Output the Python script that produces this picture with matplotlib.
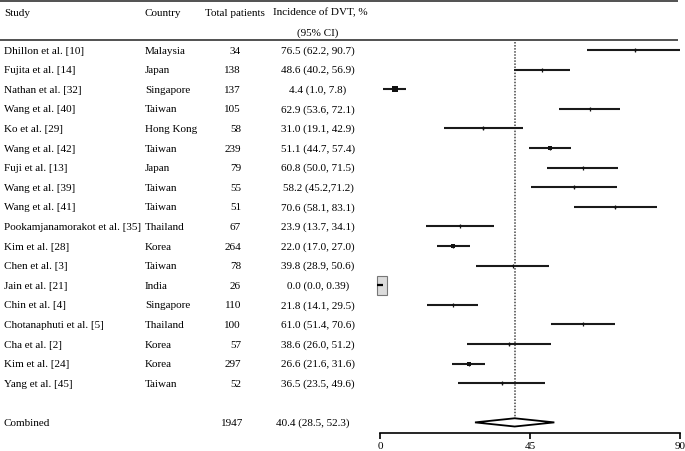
import matplotlib
matplotlib.use("Agg")
import matplotlib.pyplot as plt
from matplotlib.patches import Polygon, Rectangle

# ---------------- data ----------------
studies = ["Dhillon et al. [10]", "Fujita et al. [14]", "Nathan et al. [32]", "Wang et al. [40]",
           "Ko et al. [29]", "Wang et al. [42]", "Fuji et al. [13]", "Wang et al. [39]",
           "Wang et al. [41]", "Pookamjanamorakot et al. [35]", "Kim et al. [28]", "Chen et al. [3]",
           "Jain et al. [21]", "Chin et al. [4]", "Chotanaphuti et al. [5]", "Cha et al. [2]",
           "Kim et al. [24]", "Yang et al. [45]"]
countries = ["Malaysia", "Japan", "Singapore", "Taiwan", "Hong Kong", "Taiwan", "Japan", "Taiwan",
             "Taiwan", "Thailand", "Korea", "Taiwan", "India", "Singapore", "Thailand", "Korea",
             "Korea", "Taiwan"]
patients = [34, 138, 137, 105, 58, 239, 79, 55, 51, 67, 264, 78, 26, 110, 100, 57, 297, 52]
estimates = [76.5, 48.6, 4.4, 62.9, 31.0, 51.1, 60.8, 58.2, 70.6, 23.9, 22.0, 39.8, 0.0, 21.8,
             61.0, 38.6, 26.6, 36.5]
lower = [62.2, 40.2, 1.0, 53.6, 19.1, 44.7, 50.0, 45.2, 58.1, 13.7, 17.0, 28.9, 0.0, 14.1,
         51.4, 26.0, 21.6, 23.5]
upper = [90.7, 56.9, 7.8, 72.1, 42.9, 57.4, 71.5, 71.2, 83.1, 34.1, 27.0, 50.6, 0.39, 29.5,
         70.6, 51.2, 31.6, 49.6]
ci_labels = ["76.5 (62.2, 90.7)", "48.6 (40.2, 56.9)", "4.4 (1.0, 7.8)", "62.9 (53.6, 72.1)",
             "31.0 (19.1, 42.9)", "51.1 (44.7, 57.4)", "60.8 (50.0, 71.5)", "58.2 (45.2,71.2)",
             "70.6 (58.1, 83.1)", "23.9 (13.7, 34.1)", "22.0 (17.0, 27.0)", "39.8 (28.9, 50.6)",
             "0.0 (0.0, 0.39)", "21.8 (14.1, 29.5)", "61.0 (51.4, 70.6)", "38.6 (26.0, 51.2)",
             "26.6 (21.6, 31.6)", "36.5 (23.5, 49.6)"]
combined_label = "Combined"
combined_patients = 1947
combined_est, combined_lo, combined_hi = 40.4, 28.5, 52.3
combined_ci_label = "40.4 (28.5, 52.3)"
x_ticks = [0, 45, 90]
headers = ["Study", "Country", "Total patients", "Incidence of DVT, %", "(95% CI)"]

# ---------------- layout ----------------
W, H = 685, 452
ROW0_PX, ROW_STEP = 51.0, 19.6


def r(px):
    """pixel y -> row coordinate"""
    return (px - ROW0_PX) / ROW_STEP


FONT = "Liberation Serif"
FS = 8
plt.rcParams["font.family"] = [FONT, "DejaVu Serif"]

fig = plt.figure(figsize=(W / 100, H / 100), dpi=100)
ax_t = fig.add_axes([0, 0, 1, 1])
ax_t.set_xlim(0, W)
ax_t.set_ylim(r(H), r(0))
ax_t.axis("off")

ax_f = fig.add_axes([380 / W, 0, 300 / W, 1])
ax_f.set_xlim(0, 90)
ax_f.set_ylim(r(H), r(0))
ax_f.patch.set_alpha(0)
for s in ["top", "left", "right"]:
    ax_f.spines[s].set_visible(False)
ax_f.spines["bottom"].set_position(("data", r(434)))
ax_f.spines["bottom"].set_linewidth(1.2)
ax_f.set_yticks([])
ax_f.set_xticks(x_ticks)
ax_f.set_xticklabels([str(t) for t in x_ticks])
ax_f.tick_params(axis="x", direction="out", length=4, width=1.2, pad=1.5, labelsize=FS)

# header lines
ax_t.hlines([r(2), r(41)], 0, 678, color="#333333", lw=1.2)

# headers
ax_t.text(4, r(13), headers[0], fontsize=FS, va="center", ha="left")
ax_t.text(145, r(13), headers[1], fontsize=FS, va="center", ha="left")
ax_t.text(205, r(13), headers[2], fontsize=FS, va="center", ha="left")
ax_t.text(273, r(13), headers[3], fontsize=FS, va="center", ha="left")
ax_t.text(318, r(33), headers[4], fontsize=FS, va="center", ha="center")

# rows
for i, (st, c, n, lab) in enumerate(zip(studies, countries, patients, ci_labels)):
    ax_t.text(4, i, st, fontsize=FS, va="center", ha="left")
    ax_t.text(145, i, c, fontsize=FS, va="center", ha="left")
    ax_t.text(241, i, str(n), fontsize=FS, va="center", ha="right")
    ax_t.text(318, i, lab, fontsize=FS, va="center", ha="center")

comb_row = len(studies) + 1
ax_t.text(4, comb_row, combined_label, fontsize=FS, va="center", ha="left")
ax_t.text(243, comb_row, str(combined_patients), fontsize=FS, va="center", ha="right")
ax_t.text(313, comb_row, combined_ci_label, fontsize=FS, va="center", ha="center")

# reference dotted line at combined estimate
ax_f.vlines(combined_est, r(43), r(420), colors="#444444", linestyles=(0, (1, 1)), lw=1.1)

# confidence intervals
for i, (e, lo, hi) in enumerate(zip(estimates, lower, upper)):
    width = hi - lo
    if width < 1:
        # over-weighted study drawn as a grey box
        bw, bh = 3.0, 0.95
        ax_f.add_patch(Rectangle((e - bw / 2 + 0.5, i - bh / 2), bw, bh, facecolor="#dcdcdc",
                                 edgecolor="#777777", lw=0.8, clip_on=False, zorder=3))
        ax_f.plot([e], [i], marker="_", ms=4, mew=1.6, color="black", clip_on=False, zorder=4)
        continue
    ax_f.hlines(i, lo, hi, colors="#1a1a1a", lw=1.5)
    ms = max(32.0 / width, 1.2)
    ax_f.plot([e], [i], marker="s", ms=ms, color="#111111", mew=0, zorder=3)
    ax_f.plot([e], [i], marker="|", ms=3, mew=0.9, color="#111111", zorder=3)

# combined diamond
dh = 0.21
diamond = Polygon([(combined_lo, comb_row), (combined_est, comb_row - dh),
                   (combined_hi, comb_row), (combined_est, comb_row + dh)],
                  closed=True, facecolor="white", edgecolor="black", lw=1.3, zorder=3)
ax_f.add_patch(diamond)

fig.savefig("out.png", dpi=100)
